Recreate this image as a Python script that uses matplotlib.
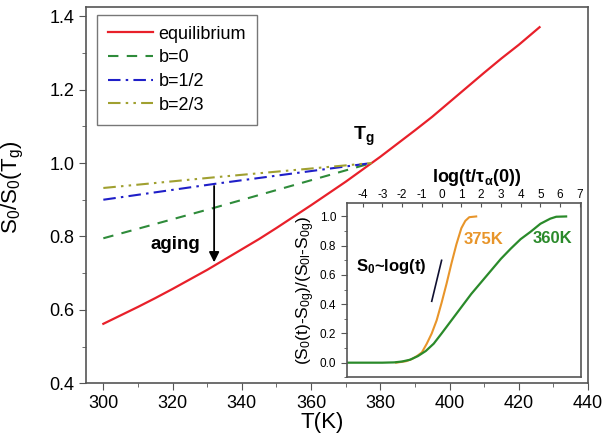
import matplotlib
matplotlib.use("Agg")
import matplotlib.pyplot as plt
from matplotlib.ticker import MultipleLocator, FormatStrFormatter

plt.rcParams['font.family'] = ['Liberation Sans', 'DejaVu Sans']
plt.rcParams['mathtext.fontset'] = 'custom'
plt.rcParams['mathtext.rm'] = 'Liberation Sans'
plt.rcParams['mathtext.it'] = 'Liberation Sans:italic'
plt.rcParams['mathtext.bf'] = 'Liberation Sans:bold'
plt.rcParams['mathtext.default'] = 'regular'
plt.rcParams['axes.unicode_minus'] = False

# ---- main panel data ----
T_eq = [300, 305, 310, 315, 320, 325, 330, 335, 340, 345, 350, 355, 360, 365,
        370, 375, 380, 385, 390, 395, 400, 405, 410, 415, 420, 426]
S_eq = [0.562, 0.585, 0.608, 0.632, 0.657, 0.683, 0.709, 0.737, 0.765, 0.793,
        0.823, 0.854, 0.885, 0.917, 0.949, 0.983, 1.017, 1.053, 1.089, 1.126,
        1.166, 1.206, 1.246, 1.285, 1.322, 1.370]

T_glass = [300, 332, 377.5]
S_b0 = [0.795, 0.878, 1.0]
S_b12 = [0.90, 0.943, 1.0]
S_b23 = [0.932, 0.961, 1.0]

labels = ['equilibrium', 'b=0', 'b=1/2', 'b=2/3']

# ---- inset data ----
logt_360 = [-4.8, -3.0, -2.4, -2.0, -1.6, -1.2, -0.8, -0.4, 0.0, 0.5, 1.0, 1.5,
            2.0, 2.5, 3.0, 3.5, 4.0, 4.5, 5.0, 5.5, 5.8, 6.3]
S_360 = [0.0, 0.0, 0.002, 0.008, 0.02, 0.045, 0.08, 0.13, 0.20, 0.29, 0.38, 0.47,
         0.55, 0.63, 0.71, 0.78, 0.845, 0.895, 0.95, 0.985, 0.998, 1.0]
logt_375 = [-2.3, -1.8, -1.5, -1.25, -1.0, -0.75, -0.5, -0.25, 0.0, 0.25, 0.5,
            0.75, 1.0, 1.2, 1.4, 1.75]
S_375 = [0.0, 0.01, 0.025, 0.045, 0.07, 0.13, 0.20, 0.29, 0.41, 0.54, 0.68,
         0.81, 0.92, 0.97, 0.995, 1.0]
logt_slope = [-0.5, 0.0]
S_slope = [0.42, 0.70]

fig = plt.figure(figsize=(6.02, 4.43), dpi=100)
ax = fig.add_axes([0.1429, 0.1348, 0.8339, 0.8494])

c_red = '#e8202a'
c_green = '#2e8b3a'
c_blue = '#1f1fc8'
c_olive = '#a0a030'

ax.plot(T_eq, S_eq, color=c_red, lw=1.6, label=labels[0])
ax.plot(T_glass, S_b0, color=c_green, lw=1.5, ls=(0, (5, 4)), label=labels[1])
ax.plot(T_glass, S_b12, color=c_blue, lw=1.5, ls=(0, (6, 2.5, 1.2, 2.5)), label=labels[2])
ax.plot(T_glass, S_b23, color=c_olive, lw=1.5, ls=(0, (6, 2.5, 1.2, 2.5, 1.2, 2.5)), label=labels[3])

ax.set_xlim(295, 440)
ax.set_ylim(0.4, 1.425)
ax.xaxis.set_major_locator(MultipleLocator(20))
ax.xaxis.set_minor_locator(MultipleLocator(10))
ax.yaxis.set_major_locator(MultipleLocator(0.2))
ax.yaxis.set_minor_locator(MultipleLocator(0.1))
ax.yaxis.set_major_formatter(FormatStrFormatter('%.1f'))
ax.tick_params(which='both', direction='out', top=False, right=False, labelsize=13, color='#555555')
ax.tick_params(which='major', length=5)
ax.tick_params(which='minor', length=3)
for s in ax.spines.values():
    s.set_color('#555555')
    s.set_linewidth(1.2)

ax.set_xlabel('T(K)', fontsize=16)
ax.xaxis.set_label_coords(0.47, -0.075)
ax.set_ylabel(r'S$_0$/S$_0$(T$_g$)', fontsize=16)
ax.yaxis.set_label_coords(-0.12, 0.52)

leg = ax.legend(loc='upper left', bbox_to_anchor=(0.022, 0.979), borderaxespad=0,
                fontsize=13, frameon=True, fancybox=False, edgecolor='#555555',
                handlelength=2.5, handletextpad=0.3, labelspacing=0.37, borderpad=0.6)
leg.get_frame().set_linewidth(1.0)

ax.annotate('', xy=(332, 0.722), xytext=(332, 0.945),
            arrowprops=dict(arrowstyle='-|>', color='black', lw=1.3, mutation_scale=15))
ax.text(313.5, 0.777, 'aging', fontsize=13.5, fontweight='bold', va='center', ha='left')
ax.text(372, 1.063, r'$\mathbf{T_g}$', fontsize=14, ha='left', va='baseline')

# ---- inset ----
axi = fig.add_axes([0.576, 0.1483, 0.389, 0.3928])
axi.plot(logt_375, S_375, color='#e8952a', lw=1.5)
axi.plot(logt_360, S_360, color='#2a8a2a', lw=1.6)
axi.plot(logt_slope, S_slope, color='#101030', lw=1.2)
axi.set_xlim(-4.8, 7.05)
axi.set_ylim(-0.1, 1.09)
axi.xaxis.set_major_locator(MultipleLocator(1))
axi.yaxis.set_major_locator(MultipleLocator(0.2))
axi.yaxis.set_minor_locator(MultipleLocator(0.1))
axi.yaxis.set_major_formatter(FormatStrFormatter('%.1f'))
axi.xaxis.tick_top()
axi.xaxis.set_label_position('top')
axi.tick_params(axis='x', which='both', direction='in', top=True, bottom=False,
                labeltop=True, labelbottom=False, labelsize=8.5, length=3, pad=2, color='#555555')
axi.tick_params(axis='y', which='both', direction='out', labelsize=8.5, color='#555555', right=False)
axi.tick_params(axis='y', which='major', length=4)
axi.tick_params(axis='y', which='minor', length=2)
for s in axi.spines.values():
    s.set_color('#555555')
    s.set_linewidth(1.2)
axi.set_xlabel(r'log(t/$\tau_\alpha$(0))', fontsize=13, fontweight='bold')
axi.xaxis.set_label_coords(0.556, 1.12)
axi.set_ylabel(r'(S$_0$(t)-S$_{0g}$)/(S$_{0l}$-S$_{0g}$)', fontsize=12.5, labelpad=2)

axi.text(-4.35, 0.66, r'S$_0$~log(t)', fontsize=12, fontweight='bold', va='center', ha='left')
axi.text(1.09, 0.84, '375K', fontsize=12, fontweight='bold', color='#e8952a', va='center', ha='left')
axi.text(4.61, 0.85, '360K', fontsize=12, fontweight='bold', color='#2a8a2a', va='center', ha='left')

fig.savefig('out.png', dpi=100)
